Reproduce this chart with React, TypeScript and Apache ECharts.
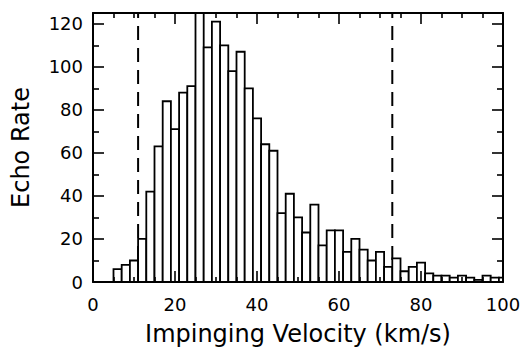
import React, { useEffect, useRef } from "react";
import * as echarts from "echarts";

// Histogram bins: centre velocity (km/s), 2 km/s wide
const binCenters: number[] = [
  6, 8, 10, 12, 14, 16, 18, 20, 22, 24, 26, 28, 30, 32, 34, 36, 38, 40, 42, 44,
  46, 48, 50, 52, 54, 56, 58, 60, 62, 64, 66, 68, 70, 72, 74, 76, 78, 80, 82, 84,
  86, 88, 90, 92, 94, 96, 98, 100,
];
const echoRates: number[] = [
  6, 8, 10, 20, 42, 63, 84, 71, 88, 91, 130, 109, 121, 110, 98, 107, 90, 76, 64, 61,
  32, 41, 30, 23, 36, 17, 24, 24, 14, 20, 15, 10, 14, 7, 11, 5, 7, 9, 4, 3,
  3, 2, 3, 2, 1, 3, 2, 2,
];
const binWidth = 2;
const cutoffVelocities: number[] = [11, 73];
const xTicks = { min: 0, max: 100, interval: 20 };
const yTicks = { min: 0, max: 125, interval: 20 };

const FONT = "DejaVu Sans";

export default function App() {
  const ref = useRef<HTMLDivElement>(null);
  useEffect(() => {
    document.body.style.margin = "0";
    const chart = echarts.init(ref.current!, null, { renderer: "svg" });
    const barData = binCenters.map((c, i) => [c - binWidth / 2, c + binWidth / 2, echoRates[i]]);
    const axisLine = { show: true, onZero: false, lineStyle: { color: "#000", width: 2 } };
    const xCommon = {
      type: "value" as const,
      min: xTicks.min,
      max: xTicks.max,
      interval: xTicks.interval,
      splitLine: { show: false },
      axisLine,
      axisTick: { show: true, inside: true, length: 11, lineStyle: { color: "#000", width: 1.6 } },
      minorTick: { show: true, splitNumber: 4, length: 5, lineStyle: { color: "#000", width: 1.6 } },
    };
    const yCommon = {
      type: "value" as const,
      min: yTicks.min,
      max: yTicks.max,
      interval: yTicks.interval,
      splitLine: { show: false },
      axisLine,
      axisTick: { show: true, inside: true, length: 11, lineStyle: { color: "#000", width: 1.6 } },
      minorTick: { show: true, splitNumber: 2, length: 6, lineStyle: { color: "#000", width: 1.6 } },
    };
    chart.setOption({
      animation: false,
      backgroundColor: "#fff",
      grid: { left: 93, right: 19, top: 13, bottom: 65, outerBoundsMode: "none", containLabel: false },
      xAxis: [
        {
          ...xCommon,
          position: "bottom",
          z: 5,
          name: "Impinging Velocity (km/s)",
          nameLocation: "middle",
          nameGap: 40,
          nameTextStyle: { fontFamily: FONT, fontSize: 24, color: "#000" },
          axisLabel: { fontFamily: FONT, fontSize: 18, color: "#000", margin: 13 },
        },
        { ...xCommon, position: "top", axisLabel: { show: false } },
      ],
      yAxis: [
        {
          ...yCommon,
          position: "left",
          name: "Echo Rate",
          nameLocation: "middle",
          nameGap: 60,
          nameTextStyle: { fontFamily: FONT, fontSize: 24, color: "#000" },
          axisLabel: { fontFamily: FONT, fontSize: 18, color: "#000", margin: 10 },
        },
        { ...yCommon, position: "right", axisLabel: { show: false } },
      ],
      series: [
        ...cutoffVelocities.map((v) => ({
          type: "line",
          xAxisIndex: 0,
          yAxisIndex: 0,
          z: 1,
          symbol: "none",
          silent: true,
          data: [
            [v, yTicks.min],
            [v, yTicks.max],
          ],
          lineStyle: { color: "#000", width: 2, type: [14, 8] },
        })),
        {
          type: "custom",
          xAxisIndex: 0,
          yAxisIndex: 0,
          z: 3,
          clip: true,
          data: barData,
          renderItem: (params: any, api: any) => {
            const x0 = api.value(0);
            const x1 = api.value(1);
            const y = api.value(2);
            const p0 = api.coord([x0, y]);
            const p1 = api.coord([x1, 0]);
            const shape = echarts.graphic.clipRectByRect(
              { x: p0[0], y: p0[1], width: p1[0] - p0[0], height: p1[1] - p0[1] },
              params.coordSys as any
            );
            return shape
              ? {
                  type: "rect",
                  shape,
                  style: { fill: "#fff", stroke: "#000", lineWidth: 1.8 },
                }
              : null;
          },
        },
      ],
    });
    return () => chart.dispose();
  }, []);
  return <div ref={ref} style={{ width: 522, height: 347 }} />;
}
